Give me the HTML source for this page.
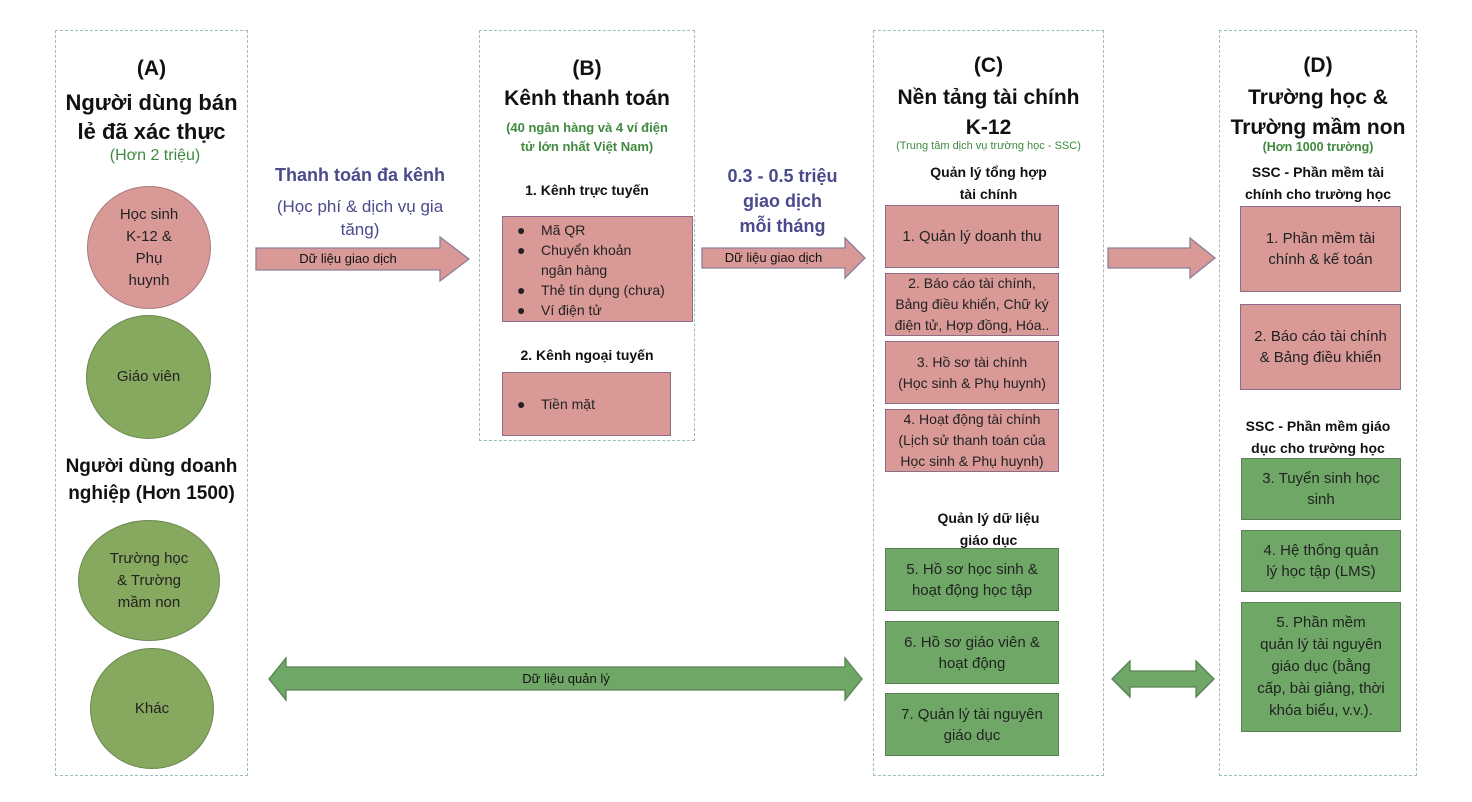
<!DOCTYPE html>
<html><head><meta charset="utf-8"><style>
body{margin:0;width:1472px;height:802px;background:#fff;position:relative;overflow:hidden;font-family:"Liberation Sans",sans-serif;color:#111}
.c{position:absolute;border:1.5px dashed #9dbcbc;box-sizing:border-box}
.t{position:absolute;text-align:center;white-space:nowrap;line-height:1}
.b{font-weight:bold}
.box{position:absolute;box-sizing:border-box;display:flex;align-items:center;justify-content:center;text-align:center;font-size:15px;line-height:21px;color:#222}
.p{background:#d99a97;border:1.5px solid #8c6d8a}
.g{background:#6fa866;border:1.5px solid #5a7f55}
.circ{position:absolute;border-radius:50%;box-sizing:border-box;display:flex;align-items:center;justify-content:center;text-align:center;font-size:15px;line-height:22px;color:#222}
.gc{background:#87a85f;border:1.5px solid #6a8750}
.pc{background:#d99a97;border:1.5px solid #a77b80}
.gr{color:#3f8a3f}
.pu{color:#4a4a8c}
</style></head><body>
<div class="c" style="left:55px;top:30px;width:193px;height:746px"></div>
<div class="c" style="left:479px;top:30px;width:216px;height:411px"></div>
<div class="c" style="left:873px;top:30px;width:231px;height:746px"></div>
<div class="c" style="left:1219px;top:30px;width:198px;height:746px"></div>

<!-- A -->
<div class="t b" style="left:55px;width:193px;top:58px;font-size:21px">(A)</div>
<div class="t b" style="left:45px;width:213px;top:88px;font-size:22px;line-height:29px">Người dùng bán<br>lẻ đã xác thực</div>
<div class="t gr" style="left:55px;width:200px;top:148px;font-size:16px">(Hơn 2 triệu)</div>
<div class="circ pc" style="left:87px;top:186px;width:124px;height:123px">Học sinh<br>K-12 &amp;<br>Phụ<br>huynh</div>
<div class="circ gc" style="left:86px;top:315px;width:125px;height:124px">Giáo viên</div>
<div class="t b" style="left:45px;width:213px;top:453px;font-size:19px;line-height:27px">Người dùng doanh<br>nghiệp (Hơn 1500)</div>
<div class="circ gc" style="left:78px;top:520px;width:142px;height:121px">Trường học<br>&amp; Trường<br>mầm non</div>
<div class="circ gc" style="left:90px;top:648px;width:124px;height:121px">Khác</div>

<!-- arrows -->
<svg style="position:absolute;left:0;top:0" width="1472" height="802">
<g fill="#d99a97" stroke="#8c7d9a" stroke-width="1.3">
<polygon points="256,248 440,248 440,237 469,259 440,281 440,270 256,270"/>
<polygon points="702,248 845,248 845,238 865,258 845,278 845,268 702,268"/>
<polygon points="1108,248 1190,248 1190,238 1215,258 1190,278 1190,268 1108,268"/>
</g>
<g fill="#6fa866" stroke="#5a7f55" stroke-width="1.3">
<polygon points="269,679 286,658 286,667 845,667 845,658 862,679 845,700 845,690 286,690 286,700"/>
<polygon points="1112,679 1130,661 1130,671 1196,671 1196,661 1214,679 1196,697 1196,687 1130,687 1130,697"/>
</g>
</svg>
<div class="t" style="left:256px;width:184px;top:252px;font-size:13px">Dữ liệu giao dịch</div>
<div class="t" style="left:702px;width:143px;top:251px;font-size:13px">Dữ liệu giao dịch</div>
<div class="t" style="left:286px;width:560px;top:672px;font-size:13px">Dữ liệu quản lý</div>
<div class="t b pu" style="left:260px;width:200px;top:166px;font-size:18px">Thanh toán đa kênh</div>
<div class="t pu" style="left:255px;width:210px;top:195px;font-size:17px;line-height:23px">(Học phí &amp; dịch vụ gia<br>tăng)</div>
<div class="t b pu" style="left:700px;width:165px;top:164px;font-size:18px;line-height:25px">0.3 - 0.5 triệu<br>giao dịch<br>mỗi tháng</div>

<!-- B -->
<div class="t b" style="left:479px;width:216px;top:58px;font-size:21px">(B)</div>
<div class="t b" style="left:479px;width:216px;top:88px;font-size:21px">Kênh thanh toán</div>
<div class="t b gr" style="left:479px;width:216px;top:118px;font-size:13px;line-height:19px">(40 ngân hàng và 4 ví điện<br>tử lớn nhất Việt Nam)</div>
<div class="t b" style="left:479px;width:216px;top:183px;font-size:14px">1. Kênh trực tuyến</div>
<div class="box p" style="left:502px;top:216px;width:191px;height:106px;display:block;text-align:left;font-size:14px;line-height:20px;padding:3px 0 0 14px">
<div>●&nbsp;&nbsp;&nbsp;&nbsp;Mã QR</div><div>●&nbsp;&nbsp;&nbsp;&nbsp;Chuyển khoản</div><div style="padding-left:24px">ngân hàng</div><div>●&nbsp;&nbsp;&nbsp;&nbsp;Thẻ tín dụng (chưa)</div><div>●&nbsp;&nbsp;&nbsp;&nbsp;Ví điện tử</div></div>
<div class="t b" style="left:479px;width:216px;top:348px;font-size:14px">2. Kênh ngoại tuyến</div>
<div class="box p" style="left:502px;top:372px;width:169px;height:64px;justify-content:flex-start;padding-left:14px;font-size:14px">●&nbsp;&nbsp;&nbsp;&nbsp;Tiền mặt</div>

<!-- C -->
<div class="t b" style="left:873px;width:231px;top:55px;font-size:21px">(C)</div>
<div class="t b" style="left:863px;width:251px;top:83px;font-size:21px;line-height:30px">Nền tảng tài chính<br>K-12</div>
<div class="t gr" style="left:863px;width:251px;top:141px;font-size:11px">(Trung tâm dịch vụ trường học - SSC)</div>
<div class="t b" style="left:873px;width:231px;top:161px;font-size:14px;line-height:22px">Quản lý tổng hợp<br>tài chính</div>
<div class="box p" style="left:885px;top:205px;width:174px;height:63px">1. Quản lý doanh thu</div>
<div class="box p" style="left:885px;top:273px;width:174px;height:63px;font-size:14px">2. Báo cáo tài chính,<br>Bảng điều khiển, Chữ ký<br>điện tử, Hợp đồng, Hóa..</div>
<div class="box p" style="left:885px;top:341px;width:174px;height:63px;font-size:14px">3. Hồ sơ tài chính<br>(Học sinh &amp; Phụ huynh)</div>
<div class="box p" style="left:885px;top:409px;width:174px;height:63px;font-size:14px">4. Hoạt động tài chính<br>(Lịch sử thanh toán của<br>Học sinh &amp; Phụ huynh)</div>
<div class="t b" style="left:873px;width:231px;top:507px;font-size:14px;line-height:22px">Quản lý dữ liệu<br>giáo dục</div>
<div class="box g" style="left:885px;top:548px;width:174px;height:63px">5. Hồ sơ học sinh &amp;<br>hoạt động học tập</div>
<div class="box g" style="left:885px;top:621px;width:174px;height:63px">6. Hồ sơ giáo viên &amp;<br>hoạt động</div>
<div class="box g" style="left:885px;top:693px;width:174px;height:63px">7. Quản lý tài nguyên<br>giáo dục</div>

<!-- D -->
<div class="t b" style="left:1219px;width:198px;top:55px;font-size:21px">(D)</div>
<div class="t b" style="left:1205px;width:226px;top:83px;font-size:21px;line-height:30px">Trường học &amp;<br>Trường mầm non</div>
<div class="t b gr" style="left:1219px;width:198px;top:141px;font-size:12.5px">(Hơn 1000 trường)</div>
<div class="t b" style="left:1214px;width:208px;top:161px;font-size:14px;line-height:22px">SSC - Phần mềm tài<br>chính cho trường học</div>
<div class="box p" style="left:1240px;top:206px;width:161px;height:86px">1. Phần mềm tài<br>chính &amp; kế toán</div>
<div class="box p" style="left:1240px;top:304px;width:161px;height:86px">2. Báo cáo tài chính<br>&amp; Bảng điều khiển</div>
<div class="t b" style="left:1214px;width:208px;top:415px;font-size:14px;line-height:22px">SSC - Phần mềm giáo<br>dục cho trường học</div>
<div class="box g" style="left:1241px;top:458px;width:160px;height:62px">3. Tuyển sinh học<br>sinh</div>
<div class="box g" style="left:1241px;top:530px;width:160px;height:62px">4. Hệ thống quản<br>lý học tập (LMS)</div>
<div class="box g" style="left:1241px;top:602px;width:160px;height:130px;line-height:22px">5. Phần mềm<br>quản lý tài nguyên<br>giáo dục (bằng<br>cấp, bài giảng, thời<br>khóa biểu, v.v.).</div>
</body></html>
